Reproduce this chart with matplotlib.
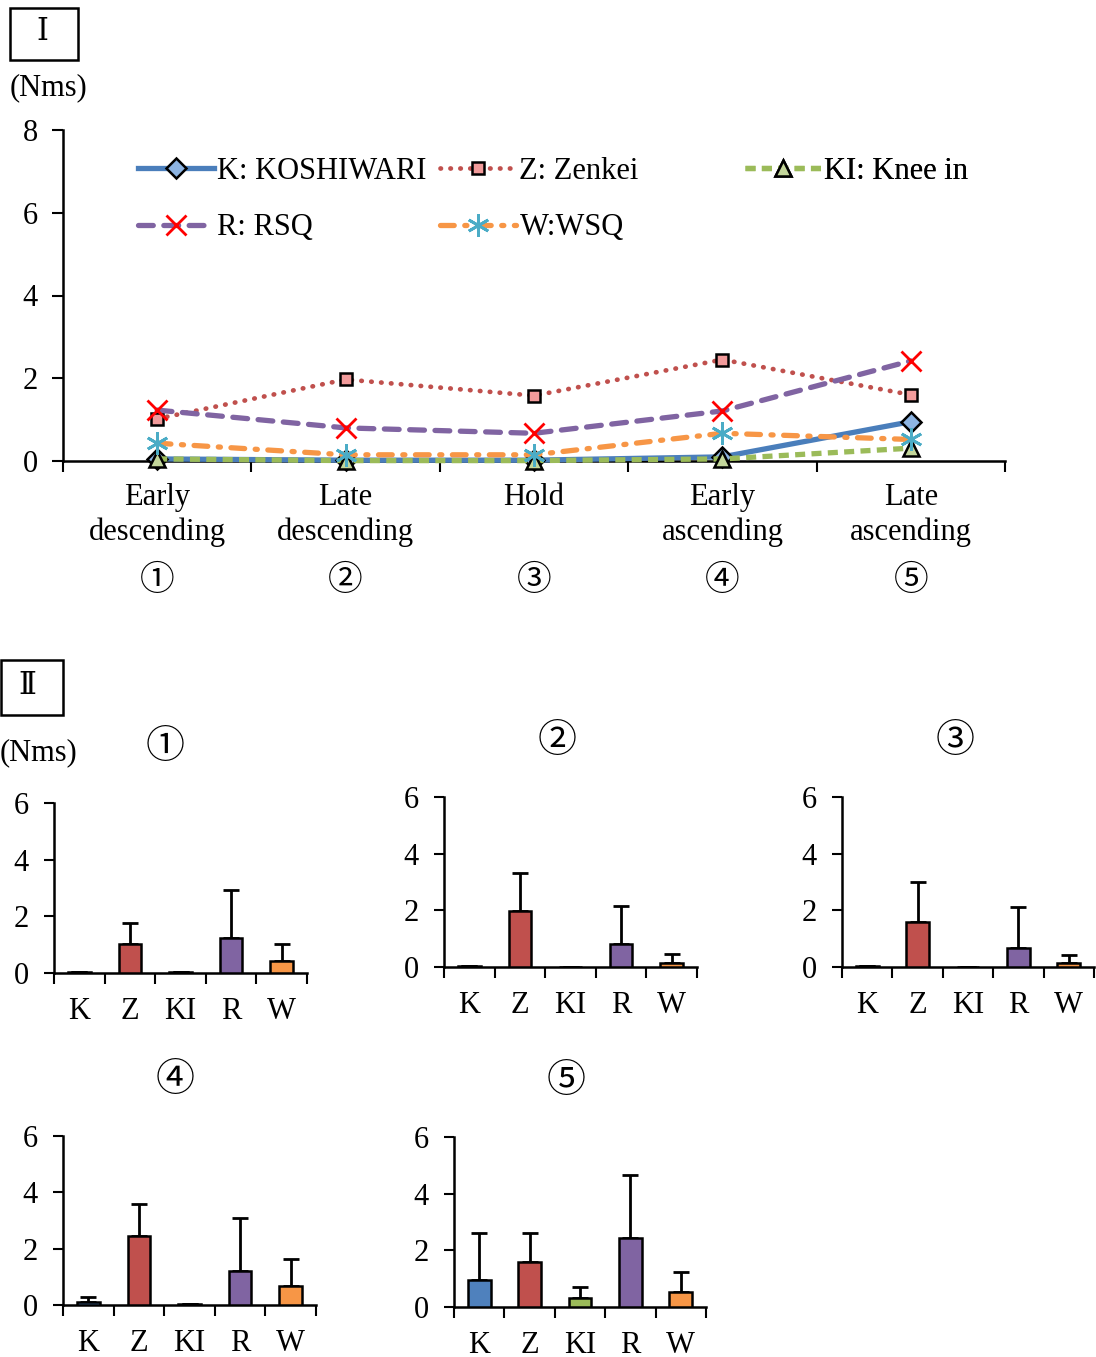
import numpy as np
import matplotlib
matplotlib.use('Agg')
import matplotlib.pyplot as plt
from matplotlib.patches import Rectangle

W, H = 1096, 1357
plt.rcParams['font.family'] = ['Liberation Serif', 'Noto Sans CJK JP', 'DejaVu Sans']
plt.rcParams['font.size'] = 22

# ---------------- data ----------------
phases = ['Early\ndescending', 'Late\ndescending', 'Hold', 'Early\nascending', 'Late\nascending']
phase_marks = ['①', '②', '③', '④', '⑤']
codes = ['K', 'Z', 'KI', 'R', 'W']
names = ['K: KOSHIWARI', 'Z: Zenkei', 'KI: Knee in', 'R: RSQ', 'W:WSQ']

mean_K = [0.05, 0.02, 0.02, 0.10, 0.95]
mean_Z = [1.02, 1.97, 1.58, 2.45, 1.60]
mean_KI = [0.05, 0.01, 0.01, 0.05, 0.31]
mean_R = [1.23, 0.80, 0.67, 1.21, 2.42]
mean_W = [0.43, 0.15, 0.15, 0.67, 0.52]

sd_K = [0.00, 0.00, 0.00, 0.17, 1.65]
sd_Z = [0.75, 1.35, 1.41, 1.13, 1.01]
sd_KI = [0.00, 0.00, 0.00, 0.00, 0.41]
sd_R = [1.70, 1.35, 1.46, 1.87, 2.23]
sd_W = [0.61, 0.31, 0.26, 0.97, 0.72]

means = [mean_K, mean_Z, mean_KI, mean_R, mean_W]
sds = [sd_K, sd_Z, sd_KI, sd_R, sd_W]

line_colors = ['#4A7EBB', '#C0504D', '#9BBB59', '#8064A2', '#F79646']
bar_colors = ['#4F81BD', '#C0504D', '#9BBB59', '#8064A2', '#F79646']


def rect(left, top, right, bottom):
    return [left / W, 1 - bottom / H, (right - left) / W, (bottom - top) / H]


fig = plt.figure(figsize=(W / 100, H / 100), dpi=100)

# ---------------- Part I ----------------
ax = fig.add_axes(rect(63, 130, 1005, 461))
x = np.arange(len(phases)) + 0.5

styles = [
    dict(ls='-', lw=3.8, marker='D', ms=10, mfc='#8DB4E2', mec='k', mew=1.8),
    dict(ls=(0, (0.1, 2.0)), lw=3.4, marker='s', ms=8, mfc='#F29B9B', mec='k', mew=1.8,
         dash_capstyle='round'),
    dict(ls=(0, (1.9, 1.2)), lw=3.8, marker='^', ms=12, mfc='#C3D69B', mec='k', mew=1.8),
    dict(ls=(0, (2.8, 2.0)), lw=3.8, marker='x', ms=14, mfc='none', mec='#FF0000', mew=2,
         dash_capstyle='round'),
    dict(ls=(0, (2.6, 2.0, 0.4, 2.0)), lw=3.8, marker=(6, 2, 0), ms=16, mec='#4BACC6', mew=2,
         dash_capstyle='round'),
]
handles = []
for i in range(5):
    h, = ax.plot(x, means[i], color=line_colors[i], clip_on=False, zorder=3 + i * 0.1,
                 **styles[i])
    handles.append(h)

ax.set_xlim(0, 5)
ax.set_ylim(0, 8)
ax.set_yticks([0, 2, 4, 6, 8])
ax.set_xticks(x)
ax.set_xticklabels(phases, linespacing=1.25)
ax.set_xticks(np.arange(6), minor=True)
ax.tick_params(axis='x', which='major', length=0, pad=16, labelsize=22)
ax.tick_params(axis='x', which='minor', length=8, width=1.5, direction='out')
ax.tick_params(axis='y', length=8, width=1.5, direction='out', pad=10, labelsize=22)
for s in ['top', 'right']:
    ax.spines[s].set_visible(False)
for s in ['left', 'bottom']:
    ax.spines[s].set_linewidth(1.8)

for xi, m in zip(x, phase_marks):
    ax.text(xi, -0.36, m, transform=ax.get_xaxis_transform(), ha='center', va='center',
            fontsize=25, family=['Noto Sans CJK JP'])

# legends in three columns placed like the reference
leg_cols = [([0, 3], 138), ([1, 4], 440), ([2], 745)]
for idx, xpx in leg_cols:
    lg = ax.legend([handles[j] for j in idx], [names[j] for j in idx],
                   loc='upper left', bbox_to_anchor=(xpx / W, 1 - 157 / H),
                   bbox_transform=fig.transFigure, frameon=False, borderpad=0,
                   borderaxespad=0, handlelength=2.5, handletextpad=0.1,
                   labelspacing=0.9, fontsize=22)
    ax.add_artist(lg)

fig.text(10 / W, 1 - 88 / H, '(Nms)', ha='left', va='center', fontsize=22)

# box labels
fig.add_artist(Rectangle((10 / W, 1 - 60 / H), 68 / W, 52 / H, transform=fig.transFigure,
                         fill=False, lw=1.8, ec='k'))
fig.text(42 / W, 1 - 32 / H, 'Ⅰ', ha='center', va='center', fontsize=22,
         family=['DejaVu Serif', 'Noto Sans CJK JP'])
fig.add_artist(Rectangle((1 / W, 1 - 715 / H), 62 / W, 55 / H, transform=fig.transFigure,
                         fill=False, lw=1.8, ec='k'))
fig.text(27 / W, 1 - 686 / H, 'Ⅱ', ha='center', va='center', fontsize=22,
         family=['DejaVu Serif', 'Noto Sans CJK JP'])
fig.text(0, 1 - 753 / H, '(Nms)', ha='left', va='center', fontsize=22)

# ---------------- Part II ----------------
bar_rects = [
    (54, 803, 307, 973),
    (444, 797, 697, 967),
    (842, 797, 1094, 967),
    (63, 1136, 316, 1305),
    (454, 1137, 706, 1307),
]
title_pos = [(165, 747), (557, 741), (955, 741), (175, 1080), (566, 1081)]

xb = np.arange(len(codes)) + 0.5
for p in range(5):
    bx = fig.add_axes(rect(*bar_rects[p]))
    vals = [means[i][p] for i in range(5)]
    errs = [sds[i][p] for i in range(5)]
    bx.errorbar(xb, vals, yerr=[np.zeros(5), errs], fmt='none', ecolor='k',
                elinewidth=2, capsize=6, capthick=2, zorder=2)
    bx.bar(xb, vals, width=0.45, color=bar_colors, edgecolor='k', linewidth=1.8, zorder=3)
    bx.set_xlim(0, 5)
    bx.set_ylim(0, 6)
    bx.set_yticks([0, 2, 4, 6])
    bx.set_xticks(xb)
    bx.set_xticklabels(codes)
    bx.set_xticks(np.arange(6), minor=True)
    bx.tick_params(axis='x', which='major', length=0, pad=17, labelsize=22)
    bx.tick_params(axis='x', which='minor', length=8, width=1.5, direction='out')
    bx.tick_params(axis='y', length=7, width=1.5, direction='out', pad=11, labelsize=22)
    for s in ['top', 'right']:
        bx.spines[s].set_visible(False)
    for s in ['left', 'bottom']:
        bx.spines[s].set_linewidth(1.8)
    tx, ty = title_pos[p]
    fig.text(tx / W, 1 - ty / H, phase_marks[p], ha='center', va='center', fontsize=28,
             family=['Noto Sans CJK JP'])

fig.savefig('out.png', dpi=100)
